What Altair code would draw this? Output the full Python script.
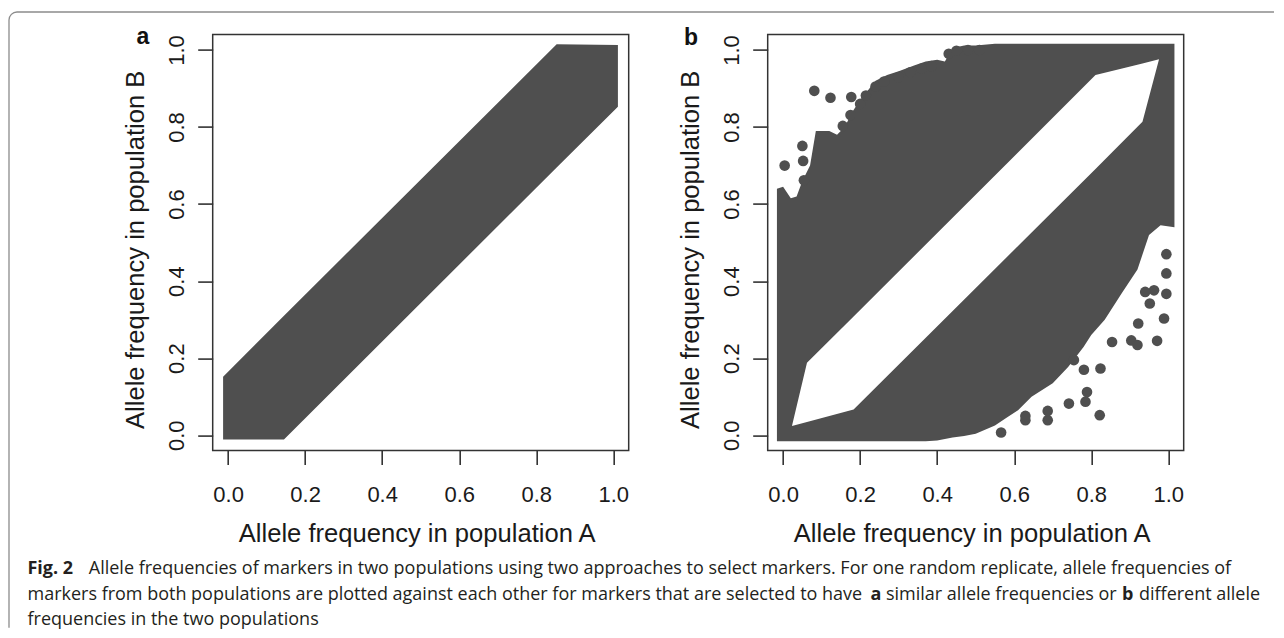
import altair as alt
import pandas as pd

# ---------------- data ----------------
TICKS = [0.0, 0.2, 0.4, 0.6, 0.8, 1.0]
DOMAIN = [-0.04, 1.04]

# panel a: outline of the dense band of markers
A_X = [-0.013, 0.145, 0.853, 1.012]
A_UPPER = [0.152, 0.310, 1.015, 1.013]
A_LOWER = [-0.011, -0.011, 0.695, 0.853]

# panel b: outline of the dense cloud of markers
B_X = [-0.016, 0.0, 0.02, 0.035, 0.05, 0.07, 0.085, 0.10, 0.12, 0.14, 0.16, 0.18,
       0.20, 0.22, 0.24, 0.27, 0.30, 0.34, 0.37, 0.40, 0.42, 0.44, 0.47, 0.50,
       0.55, 0.58, 0.61, 0.645, 0.70, 0.74, 0.78, 0.80, 0.835, 0.88, 0.92, 0.95,
       0.98, 1.016]
B_UPPER = [0.640, 0.645, 0.615, 0.620, 0.660, 0.700, 0.790, 0.790, 0.790, 0.780,
           0.800, 0.840, 0.870, 0.895, 0.920, 0.935, 0.945, 0.960, 0.970, 0.975,
           0.970, 1.005, 1.012, 1.012, 1.016, 1.016, 1.016, 1.016, 1.016, 1.016,
           1.016, 1.016, 1.016, 1.016, 1.016, 1.016, 1.016, 1.016]
B_LOWER = [-0.016, -0.016, -0.016, -0.016, -0.016, -0.016, -0.016, -0.016, -0.016,
           -0.016, -0.016, -0.016, -0.016, -0.016, -0.016, -0.016, -0.016, -0.016,
           -0.016, -0.014, -0.010, -0.006, -0.002, 0.004, 0.025, 0.045, 0.065,
           0.100, 0.135, 0.177, 0.229, 0.260, 0.300, 0.370, 0.430, 0.520, 0.545,
           0.540]

# panel b: empty lens around the diagonal
L_X = [0.023, 0.062, 0.183, 0.811, 0.851, 0.933, 0.976]
L_UPPER = [0.024, 0.188, 0.308, 0.935, 0.945, 0.965, 0.976]
L_LOWER = [0.024, 0.0345, 0.067, 0.691, 0.731, 0.814, 0.976]

# panel b: isolated markers at the edge of the cloud
OUT_X = [0.081, 0.123, 0.177, 0.175, 0.155, 0.004, 0.052, 0.050, 0.054,
         0.200, 0.215, 0.240, 0.262, 0.300, 0.330, 0.360, 0.385, 0.430, 0.450,
         0.480, 0.510,
         0.566, 0.629, 0.629, 0.687, 0.687, 0.822, 0.742, 0.785, 0.789, 0.824,
         0.755, 0.781, 0.854, 0.971, 0.989, 0.904, 0.920, 0.922, 0.952, 0.963,
         0.995, 0.995, 0.995, 0.940]
OUT_Y = [0.894, 0.876, 0.878, 0.831, 0.803, 0.700, 0.712, 0.751, 0.662,
         0.860, 0.882, 0.905, 0.918, 0.930, 0.942, 0.952, 0.958, 0.990, 0.998,
         1.000, 1.000,
         0.007, 0.039, 0.050, 0.039, 0.063, 0.052, 0.082, 0.087, 0.112, 0.173,
         0.195, 0.170, 0.242, 0.245, 0.303, 0.246, 0.234, 0.290, 0.342, 0.376,
         0.367, 0.420, 0.470, 0.372]

X_TITLE = "Allele frequency in population A"
Y_TITLE = "Allele frequency in population B"

CAPTION_TEXT = ["Fig. 2",
                "Allele frequencies of markers in two populations using two approaches to select markers. For one random replicate, allele frequencies of",
                "markers from both populations are plotted against each other for markers that are selected to have",
                "a",
                "similar allele frequencies or",
                "b",
                "different allele",
                "frequencies in the two populations"]
CAPTION_BOLD = [True, False, False, True, False, True, False, False]
CAPTION_PX = [26.5, 87.8, 26.5, 869.4, 885.0, 1121.0, 1138.0, 26.5]
CAPTION_PY = [574, 574, 600, 600, 600, 600, 600, 625]

DARK = "#4f4f4f"
PLOT_LEFT_A, PLOT_TOP = 211.7, 34.6
PLOT_LEFT_B = 766.7
SIZE = 416

band_a = pd.DataFrame({"x": A_X, "upper": A_UPPER, "lower": A_LOWER})
cloud_b = pd.DataFrame({"x": B_X, "upper": B_UPPER, "lower": B_LOWER})
lens_b = pd.DataFrame({"x": L_X, "upper": L_UPPER, "lower": L_LOWER})
out_b = pd.DataFrame({"x": OUT_X, "y": OUT_Y})
cap = pd.DataFrame({"text": CAPTION_TEXT, "bold": CAPTION_BOLD,
                    "px": [p - PLOT_LEFT_A for p in CAPTION_PX],
                    "py": [p - PLOT_TOP for p in CAPTION_PY]})

xscale = alt.Scale(domain=DOMAIN, nice=False, zero=False)
yscale = alt.Scale(domain=DOMAIN, nice=False, zero=False)

xaxis = alt.Axis(values=TICKS, format=".1f", title=X_TITLE, labelBaseline="alphabetic",
                 labelPadding=37, titleBaseline="alphabetic", titleX=204, titleY=91.3,
                 titleAlign="center", tickSize=14)
yaxis = alt.Axis(values=TICKS, format=".1f", title=Y_TITLE, labelAngle=270,
                 labelAlign="center", labelBaseline="alphabetic", labelPadding=14,
                 titleAngle=270, titleBaseline="alphabetic", titleAlign="center",
                 titleX=-69, titleY=214.7, tickSize=15)


def area_layer(df, color):
    return alt.Chart(df).mark_area(color=color, opacity=1, interpolate="linear").encode(
        x=alt.X("x:Q", scale=xscale, axis=xaxis),
        y=alt.Y("upper:Q", scale=yscale, axis=yaxis),
        y2="lower:Q",
    )


# decorative frame of the figure (top and left edges visible only)
fw, fh, r = 1281 - 8, 636 - 12, 8
arc = 3.1416 * r / 2
frame = alt.Chart(pd.DataFrame({"k": [0]})).mark_rect(
    fillOpacity=0, stroke="#8c8c8c", strokeWidth=1.3, cornerRadius=r,
    strokeDash=[fw - 2 * r, arc + (fh - 2 * r) + arc + (fw - 2 * r) + arc,
                (fh - 2 * r) + arc + 1, 60],
).encode(
    x=alt.value(8 - PLOT_LEFT_A), x2=alt.value(1281 - PLOT_LEFT_A),
    y=alt.value(12 - PLOT_TOP), y2=alt.value(636 - PLOT_TOP),
)

CAP_FONT = "Open Sans"
CAP_SIZE = 18
cap_reg = alt.Chart(cap).transform_filter("!datum.bold").mark_text(
    font=CAP_FONT, fontSize=CAP_SIZE, align="left", baseline="alphabetic", color="#231f20"
).encode(x=alt.X("px:Q", scale=None), y=alt.Y("py:Q", scale=None), text="text:N")
cap_bold = alt.Chart(cap).transform_filter("datum.bold").mark_text(
    font=CAP_FONT, fontSize=CAP_SIZE, fontWeight="bold", align="left", baseline="alphabetic",
    color="#231f20"
).encode(x=alt.X("px:Q", scale=None), y=alt.Y("py:Q", scale=None), text="text:N")

label_a = alt.Chart(pd.DataFrame({"t": ["a"]})).mark_text(
    font="Liberation Sans", fontWeight="bold", fontSize=23, align="center",
    baseline="alphabetic", color="#111"
).encode(x=alt.value(142 - PLOT_LEFT_A), y=alt.value(44 - PLOT_TOP), text="t:N")
label_b = alt.Chart(pd.DataFrame({"t": ["b"]})).mark_text(
    font="Liberation Sans", fontWeight="bold", fontSize=23, align="center",
    baseline="alphabetic", color="#111"
).encode(x=alt.value(690 - PLOT_LEFT_B), y=alt.value(45 - PLOT_TOP), text="t:N")

panel_a = alt.layer(
    frame,
    area_layer(band_a, DARK),
    label_a,
    cap_reg,
    cap_bold,
).properties(width=SIZE, height=SIZE)

outliers = alt.Chart(out_b).mark_circle(size=113, color=DARK, opacity=1).encode(
    x=alt.X("x:Q", scale=xscale, axis=xaxis),
    y=alt.Y("y:Q", scale=yscale, axis=yaxis),
)

panel_b = alt.layer(
    area_layer(cloud_b, DARK),
    area_layer(lens_b, "#ffffff"),
    outliers,
    label_b,
).properties(width=SIZE, height=SIZE)

chart = alt.hconcat(panel_a, panel_b, spacing=PLOT_LEFT_B - PLOT_LEFT_A - SIZE,
                    bounds="flush").properties(
    padding={"left": 6.7, "top": 10.6, "right": 0, "bottom": 0},
    background="white",
).configure_view(
    stroke="#333333", strokeWidth=1.5
).configure_axis(
    domain=False, grid=False, tickColor="#333333", tickWidth=1.6,
    labelFont="Liberation Sans", labelFontSize=22, labelColor="#1a1a1a",
    titleFont="Liberation Sans", titleFontSize=25.6, titleFontWeight="normal",
    titleColor="#1a1a1a", labelOverlap=False
)

chart.save("out.html", embed_options={"renderer": "svg", "actions": False})
